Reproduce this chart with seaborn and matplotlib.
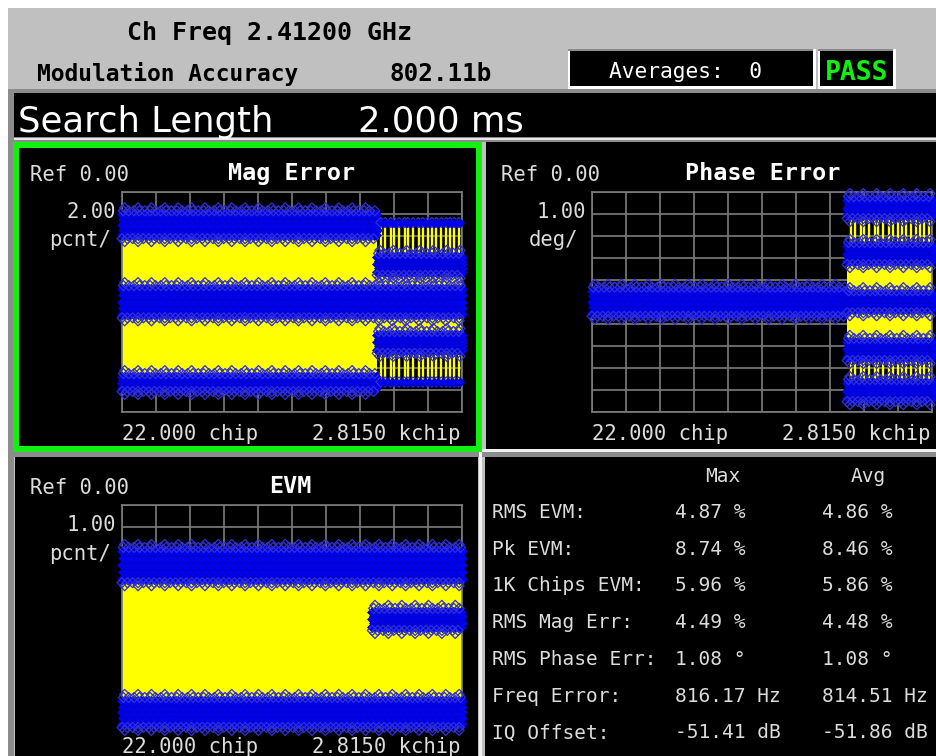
import numpy as np
import pandas as pd
import matplotlib
matplotlib.use("Agg")
import matplotlib.pyplot as plt
from matplotlib.patches import Rectangle
import seaborn as sns

W, H = 937, 756

# ---------------- trace data ----------------
CHIP_FIRST, CHIP_LAST = 22.0, 2815.0
BURST_EDGE = 2120.0          # chip where the symbol pattern changes

# Mag Error (%), 2.00 pcnt/div about 0
mag_band_level = [7.0, 0.0, -7.35, 3.4, -3.7]
mag_band_spread = [0.95, 1.15, 0.5, 0.68, 0.68]
mag_band_start = [CHIP_FIRST, CHIP_FIRST, CHIP_FIRST, BURST_EDGE, BURST_EDGE]
mag_band_stop = [BURST_EDGE, CHIP_LAST, BURST_EDGE, CHIP_LAST, CHIP_LAST]
mag_sparse_level = [7.2, -7.3]
mag_fill_start = [CHIP_FIRST, BURST_EDGE]
mag_fill_stop = [BURST_EDGE, CHIP_LAST]
mag_fill_low = [-7.35, -3.7]
mag_fill_high = [7.0, 3.4]
mag_stripe_low = [3.4, -7.3]
mag_stripe_high = [7.2, -3.7]

# Phase Error (deg), 1.00 deg/div about 0
phase_band_level = [0.0, 4.28, 2.19, 0.0, -2.17, -4.04]
phase_band_spread = [0.5, 0.34, 0.34, 0.34, 0.34, 0.34]
phase_band_start = [CHIP_FIRST, BURST_EDGE, BURST_EDGE, BURST_EDGE, BURST_EDGE, BURST_EDGE]
phase_band_stop = [BURST_EDGE, CHIP_LAST, CHIP_LAST, CHIP_LAST, CHIP_LAST, CHIP_LAST]
phase_fill_start = [BURST_EDGE]
phase_fill_stop = [CHIP_LAST]
phase_fill_low = [-2.17]
phase_fill_high = [2.19]
phase_stripe_low = [2.19, -4.2]
phase_stripe_high = [4.4, -2.17]

# EVM (%), 1.00 pcnt/div from 0
evm_band_level = [7.27, 0.57, 4.8]
evm_band_spread = [0.64, 0.52, 0.34]
evm_band_start = [CHIP_FIRST, CHIP_FIRST, 2080.0]
evm_band_stop = [CHIP_LAST, CHIP_LAST, CHIP_LAST]
evm_fill_start = [CHIP_FIRST]
evm_fill_stop = [CHIP_LAST]
evm_fill_low = [0.57]
evm_fill_high = [7.27]

# chips of the isolated transitions after the burst edge
tail_stripe_chips = [2150, 2185, 2230, 2262, 2300, 2345, 2372, 2415, 2460, 2495,
                     2535, 2570, 2605, 2648, 2688, 2718, 2755, 2790]

# measurement summary table
metric_names = ["RMS EVM:", "Pk EVM:", "1K Chips EVM:", "RMS Mag Err:",
                "RMS Phase Err:", "Freq Error:", "IQ Offset:"]
metric_max = ["4.87", "8.74", "5.96", "4.49", "1.08", "816.17", "-51.41"]
metric_avg = ["4.86", "8.46", "5.86", "4.48", "1.08", "814.51", "-51.86"]
metric_unit = ["%", "%", "%", "%", "°", "Hz", "dB"]

# ---------------- styling ----------------
GREY = "#c0c0c0"
DARK_GREY = "#8c8c8c"
GRID = "#7c7c7c"
YELLOW = "#ffff00"
BLUE = "#0000ff"
EDGE = "#0000c0"
FRINGE = "#3030d8"
GREEN = "#12f012"
TXT = "#dcdcdc"
MONO = "DejaVu Sans Mono"
SANS = "DejaVu Sans"

fig = plt.figure(figsize=(W / 100, H / 100), dpi=100)
fig.patch.set_facecolor("white")


def rect(x0, y0, x1, y1, color, z=-5):
    fig.patches.append(Rectangle((x0 / W, 1 - y1 / H), (x1 - x0) / W, (y1 - y0) / H,
                                 transform=fig.transFigure, facecolor=color,
                                 edgecolor="none", zorder=z))


def text(x, y, s, size, color=TXT, ha="left", va="baseline", weight="normal", family=MONO):
    fig.text(x / W, 1 - y / H, s, fontsize=size, color=color, ha=ha, va=va,
             fontweight=weight, family=family, zorder=10)


def add_axes(x0, y0, x1, y1):
    return fig.add_axes([x0 / W, 1 - y1 / H, (x1 - x0) / W, (y1 - y0) / H])


# frame and panels
rect(8, 8, W, H, GREY, -10)
rect(8, 89, 14, H, DARK_GREY, -9)
rect(8, 89, W, 93, DARK_GREY, -9)
rect(14, 93, W, 137, "black", -8)
rect(14, 137, W, 142, DARK_GREY, -8)
rect(14, 138, W, 140, "#e8e8e8", -8)
# averages / pass boxes
rect(568, 49, 816, 89, "white", -8)
rect(568, 49, 813, 51, DARK_GREY, -7)
rect(570, 51, 813, 86, "black", -7)
rect(818, 49, 896, 89, "white", -8)
rect(818, 49, 893, 51, DARK_GREY, -7)
rect(820, 51, 893, 86, "black", -7)
# panel cells
rect(13, 142, 482, 452, GREEN, -7)
rect(19, 148, 476, 446, "black", -6)
rect(486, 142, W, 449, "black", -7)
rect(482, 449, W, 452, "#f0f0f0", -7)
rect(14, 452, W, 457, DARK_GREY, -7)
rect(15, 457, 478, H, "black", -7)
rect(479, 452, 482, H, "#f0f0f0", -7)
rect(485, 457, W, H, "black", -7)

# ---------------- header texts ----------------
text(127, 40, "Ch Freq 2.41200 GHz", 18, "black", weight="bold")
text(37, 81, "Modulation Accuracy", 16.5, "black", weight="bold")
text(390, 81, "802.11b", 17.5, "black", weight="bold")
text(686, 78, "Averages:  0", 15.3, "white", ha="center")
text(857, 80, "PASS", 19, GREEN, ha="center", weight="bold")
text(18, 132, "Search Length", 25.5, "white", family=SANS)
text(358, 132, "2.000 ms", 25.5, "white", family=SANS)


# ---------------- trace drawing ----------------
def band_frame(x0, x1, level, spread, step):
    xs = np.arange(x0, x1 + step / 2, step)
    frames = []
    for k, frac in enumerate((-1.0, -0.5, 0.0, 0.5, 1.0)):
        shift = step / 2 if k % 2 else 0.0
        frames.append(pd.DataFrame({"chip": np.clip(xs + shift, x0, x1),
                                    "value": level + frac * spread}))
    return pd.concat(frames, ignore_index=True)


def fringe_frame(x0, x1, level, spread, lift, step):
    xs = np.arange(x0, x1, step)
    rows = []
    for sign in (1, -1):
        a = xs[::2] + (step / 2 if sign > 0 else 0)
        b = xs[1::5]
        rows.append(pd.DataFrame({"chip": a, "value": level + sign * (spread + 0.7 * lift)}))
        rows.append(pd.DataFrame({"chip": b, "value": level + sign * (spread + 1.3 * lift)}))
    df = pd.concat(rows, ignore_index=True)
    return df[(df.chip >= x0) & (df.chip <= x1)]


def draw_trace(ax, levels, spreads, starts, stops, lift, fills, stripes=None, sparse=None):
    step = 22.0
    for f0, f1, lo, hi in zip(*fills):
        ax.fill_between([f0, f1], lo, hi, color=YELLOW, lw=0, zorder=2)
    if stripes is not None:
        for lo, hi in zip(*stripes):
            ax.vlines(tail_stripe_chips, lo, hi, color=YELLOW, lw=1.7, zorder=2)
    for lev, spr, x0, x1 in zip(levels, spreads, starts, stops):
        ax.fill_between([x0, x1], lev - spr, lev + spr, color=BLUE, lw=0, zorder=3)
        sns.scatterplot(data=band_frame(x0, x1, lev, spr, step), x="chip", y="value",
                        ax=ax, marker="D", s=26, color=BLUE, edgecolor=EDGE,
                        linewidth=0.5, legend=False, zorder=4, clip_on=False)
        fr = fringe_frame(x0, x1, lev, spr, lift, step)
        ax.scatter(fr.chip, fr.value, marker="D", s=26, facecolors="none",
                   edgecolors=FRINGE, linewidths=0.9, zorder=4, clip_on=False)
    if sparse is not None:
        for lev in sparse:
            xs = np.array(tail_stripe_chips, dtype=float)
            ax.scatter(xs, np.full(xs.size, lev), marker="D", s=26, facecolors="none",
                       edgecolors=FRINGE, linewidths=0.9, zorder=4, clip_on=False)
            ax.scatter(xs + 15, np.full(xs.size, lev), marker="D", s=20, color=BLUE,
                       edgecolors=EDGE, linewidths=0.5, zorder=4, clip_on=False)


def style_grid(ax, ylo, yhi):
    ax.set_facecolor("black")
    ax.set_xlim(CHIP_FIRST, CHIP_LAST)
    ax.set_ylim(ylo, yhi)
    ax.set_xticks(np.linspace(CHIP_FIRST, CHIP_LAST, 11))
    ax.set_yticks(np.linspace(ylo, yhi, 11))
    ax.grid(True, color=GRID, lw=1.2)
    ax.set_axisbelow(True)
    ax.tick_params(length=0, labelbottom=False, labelleft=False)
    ax.set_xlabel("")
    ax.set_ylabel("")
    for sp in ax.spines.values():
        sp.set_color(GRID)
        sp.set_linewidth(1.2)


# Mag Error
ax_mag = add_axes(122, 191.7, 461.7, 411.7)
draw_trace(ax_mag, mag_band_level, mag_band_spread, mag_band_start, mag_band_stop,
           lift=0.45,
           fills=(mag_fill_start, mag_fill_stop, mag_fill_low, mag_fill_high),
           stripes=(mag_stripe_low, mag_stripe_high), sparse=mag_sparse_level)
style_grid(ax_mag, -10, 10)

# Phase Error
ax_ph = add_axes(592, 191.7, 931.7, 411.7)
draw_trace(ax_ph, phase_band_level, phase_band_spread, phase_band_start, phase_band_stop,
           lift=0.23,
           fills=(phase_fill_start, phase_fill_stop, phase_fill_low, phase_fill_high),
           stripes=(phase_stripe_low, phase_stripe_high))
style_grid(ax_ph, -5, 5)

# EVM
ax_evm = add_axes(122, 505, 461.7, 725)
draw_trace(ax_evm, evm_band_level, evm_band_spread, evm_band_start, evm_band_stop,
           lift=0.23,
           fills=(evm_fill_start, evm_fill_stop, evm_fill_low, evm_fill_high))
style_grid(ax_evm, 0, 10)

# ---------------- panel annotations ----------------
PT = 14.8
for dx, dy, title, scale, unit in ((0, 0, "Mag Error", "2.00", "pcnt/"),
                                   (470, 0, "Phase Error", "1.00", "deg/"),
                                   (0, 313, "EVM", "1.00", "pcnt/")):
    text(30 + dx + (1 if dx else 0), 181 + dy, "Ref 0.00", PT)
    tx = {"Mag Error": 228, "Phase Error": 685, "EVM": 269}[title]
    text(tx, 180 + dy, title, 16.8, "white", weight="bold")
    text(116 + dx, 218 + dy, scale, PT, ha="right")
    text(111 + dx - (3 if unit == "deg/" else 0), 246.5 + dy, unit, PT, ha="right")
    text(122 + dx, 440 + dy, "22.000 chip", PT)
    text(461 + dx, 440 + dy, "2.8150 kchip", PT, ha="right")

# ---------------- summary table ----------------
TT = 14
text(723, 481.7, "Max", TT, ha="center")
text(868, 481.7, "Avg", TT, ha="center")
for i, (name, mx, av, un) in enumerate(zip(metric_names, metric_max, metric_avg, metric_unit)):
    y = 518 + i * 36.7
    text(492, y, name, TT)
    text(675, y, f"{mx} {un}", TT)
    text(822, y, f"{av} {un}", TT)

fig.savefig("out.png", dpi=100, facecolor=fig.get_facecolor())
